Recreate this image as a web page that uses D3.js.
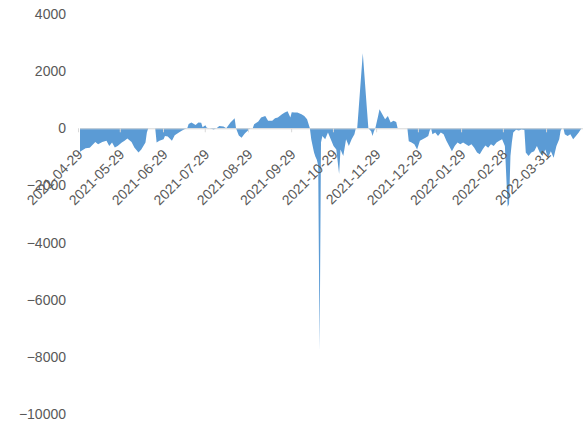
<!DOCTYPE html>
<html>
<head>
<meta charset="utf-8">
<script src="https://cdn.jsdelivr.net/npm/d3@7"></script>
<style>
  html, body { margin: 0; padding: 0; background: #fff; }
  svg { display: block; }
  .ylab, .xlab { font-family: "Liberation Sans", Arial, sans-serif; fill: #595959; }
</style>
</head>
<body>
<svg id="chart" width="585" height="426"></svg>
<script>
// Daily net flow series
const dates = [
  "2021-04-29","2021-05-03","2021-05-06","2021-05-10","2021-05-12","2021-05-15","2021-05-18","2021-05-20",
  "2021-05-22","2021-05-24","2021-05-26","2021-05-29","2021-05-31","2021-06-02","2021-06-05","2021-06-07",
  "2021-06-10","2021-06-12","2021-06-15","2021-06-16","2021-06-17","2021-06-22","2021-06-23","2021-06-25",
  "2021-06-28","2021-06-29","2021-07-01","2021-07-04","2021-07-06","2021-07-09","2021-07-11","2021-07-13",
  "2021-07-15","2021-07-16","2021-07-18","2021-07-21","2021-07-23","2021-07-25","2021-07-26","2021-07-28",
  "2021-07-29","2021-07-31","2021-08-03","2021-08-05","2021-08-07","2021-08-10","2021-08-12","2021-08-15",
  "2021-08-17","2021-08-18","2021-08-19","2021-08-21","2021-08-23","2021-08-25","2021-08-26","2021-08-28",
  "2021-08-29","2021-08-31","2021-09-01","2021-09-04","2021-09-06","2021-09-09","2021-09-11","2021-09-14",
  "2021-09-16","2021-09-18","2021-09-21","2021-09-23","2021-09-25","2021-09-27","2021-09-28","2021-09-30",
  "2021-10-02","2021-10-05","2021-10-07","2021-10-09","2021-10-11","2021-10-12","2021-10-13","2021-10-14",
  "2021-10-15","2021-10-16","2021-10-17","2021-10-18","2021-10-19","2021-10-20","2021-10-22","2021-10-24",
  "2021-10-26","2021-10-28","2021-10-30","2021-11-01","2021-11-02","2021-11-04","2021-11-06","2021-11-08",
  "2021-11-10","2021-11-12","2021-11-13","2021-11-14","2021-11-15","2021-11-18","2021-11-21","2021-11-22",
  "2021-11-24","2021-11-25","2021-11-26","2021-11-27","2021-11-29","2021-11-30","2021-12-02","2021-12-04",
  "2021-12-06","2021-12-08","2021-12-10","2021-12-12","2021-12-13","2021-12-20","2021-12-21","2021-12-23",
  "2021-12-25","2021-12-27","2021-12-29","2021-12-31","2022-01-02","2022-01-04","2022-01-05","2022-01-06",
  "2022-01-07","2022-01-09","2022-01-11","2022-01-13","2022-01-15","2022-01-17","2022-01-19","2022-01-21",
  "2022-01-23","2022-01-25","2022-01-27","2022-01-29","2022-01-31","2022-02-02","2022-02-04","2022-02-06",
  "2022-02-08","2022-02-10","2022-02-12","2022-02-14","2022-02-16","2022-02-18","2022-02-20","2022-02-22",
  "2022-02-24","2022-02-26","2022-02-28","2022-03-02","2022-03-03","2022-03-04","2022-03-05","2022-03-06",
  "2022-03-08","2022-03-10","2022-03-12","2022-03-14","2022-03-15","2022-03-17","2022-03-19","2022-03-21",
  "2022-03-23","2022-03-25","2022-03-27","2022-03-29","2022-03-31","2022-04-02","2022-04-04","2022-04-06",
  "2022-04-08","2022-04-09","2022-04-10","2022-04-11","2022-04-12","2022-04-14","2022-04-16","2022-04-18",
  "2022-04-20","2022-04-22","2022-04-24"
];
const values = [
  -820,-700,-680,-480,-560,-480,-440,-620,
  -500,-670,-620,-500,-440,-360,-480,-670,
  -850,-740,-500,-150,0,0,-500,-440,
  -385,-270,-290,-440,-245,-150,-90,-35,
  0,150,200,115,200,190,40,110,
  20,0,-40,0,80,60,0,200,
  300,350,0,-250,-330,-200,-150,-60,
  0,0,140,235,375,430,260,260,
  350,375,490,550,600,380,560,550,
  550,490,430,315,0,-385,-620,-850,
  -1000,-1100,-1300,-7750,-500,-270,-385,-150,
  -385,-620,-740,-1600,-740,-970,-385,-620,
  -385,-210,0,0,650,2630,650,0,
  -100,-270,-100,0,430,670,490,315,
  430,200,260,220,0,0,-450,-500,
  -560,-740,-440,-385,-330,-270,-90,0,
  -210,-150,-270,-150,-210,-440,-620,-800,
  -620,-500,-560,-500,-560,-620,-560,-680,
  -850,-910,-740,-600,-680,-560,-620,-500,
  -440,-385,-620,-2750,-2650,-970,-500,-150,
  -50,-80,-40,-60,-850,-970,-850,-800,
  -620,-850,-970,-740,-1030,-800,-1030,-620,
  -385,-90,0,0,-210,-270,-210,-385,
  -270,-150,0
];
const xTickLabels = [
  "2021-04-29","2021-05-29","2021-06-29","2021-07-29","2021-08-29","2021-09-29",
  "2021-10-29","2021-11-29","2021-12-29","2022-01-29","2022-02-28","2022-03-31"
];
const yTicks = [4000, 2000, 0, -2000, -4000, -6000, -8000, -10000];

const parse = d3.utcParse("%Y-%m-%d");
const data = dates.map((d, i) => ({ date: parse(d), value: values[i] }));

const svg = d3.select("#chart");

const x = d3.scaleUtc()
  .domain([parse("2021-04-29"), parse("2022-04-24")])
  .range([80, 581.5]);

const y = d3.scaleLinear()
  .domain([-10000, 4000])
  .range([414, 14]);

// filled area against the zero baseline
const area = d3.area()
  .x(d => x(d.date))
  .y0(y(0))
  .y1(d => y(d.value));

svg.append("path")
  .datum(data)
  .attr("fill", "#5b9bd5")
  .attr("d", area);

// horizontal category axis sitting on zero
const xAxis = d3.axisBottom(x)
  .tickValues(xTickLabels.map(parse))
  .tickSize(4)
  .tickFormat(d3.utcFormat("%Y-%m-%d"));

const gx = svg.append("g")
  .attr("transform", `translate(0,${y(0)})`)
  .call(xAxis);
gx.select(".domain").attr("stroke", "#d9d9d9").attr("d", `M80,0.5H583`);
gx.selectAll(".tick line").attr("stroke", "#d9d9d9").attr("transform", "translate(-2,0)");
gx.selectAll(".tick text")
  .attr("class", "xlab")
  .attr("font-size", 14)
  .attr("text-anchor", "end")
  .attr("dy", null)
  .attr("y", null)
  .attr("transform", "translate(3,27) rotate(-45)");

// value axis labels only (no line, no gridlines)
const yAxis = d3.axisLeft(y)
  .tickValues(yTicks)
  .tickSize(0)
  .tickPadding(0)
  .tickFormat(d3.format("d"));

const gy = svg.append("g")
  .attr("transform", "translate(66,0)")
  .call(yAxis);
gy.select(".domain").remove();
gy.selectAll(".tick text")
  .attr("class", "ylab")
  .attr("font-size", 14);
</script>
</body>
</html>
